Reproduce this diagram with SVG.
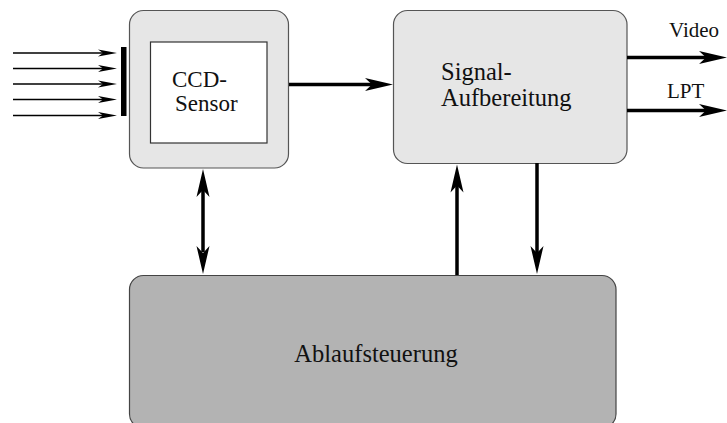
<svg xmlns="http://www.w3.org/2000/svg" width="727" height="423" viewBox="0 0 727 423">
  <style>
    .label { font-family: 'Liberation Serif', 'Tinos', 'DejaVu Serif', serif; font-size: 24.5px; fill: #111; }
    .label-sm { font-family: 'Liberation Serif', 'Tinos', 'DejaVu Serif', serif; font-size: 23px; fill: #111; }
    .port { font-family: 'Liberation Serif', 'Tinos', 'DejaVu Serif', serif; font-size: 21px; fill: #111; }
    .box-light { fill: #e6e6e6; stroke: #555; stroke-width: 1.2; }
    .box-dark { fill: #b3b3b3; stroke: #444; stroke-width: 1.2; }
    .thin { stroke: #000; stroke-width: 1.3; fill: none; }
    .thick { stroke: #000; stroke-width: 3.5; fill: none; }
    .head { fill: #000; stroke: none; }
  </style>
  <defs>
    <!-- notched arrowheads, tip at origin pointing +x -->
    <path id="head-small" d="M0,0 L-19,-3.6 L-14,0 L-19,3.6 Z"/>
    <path id="head-big" d="M0,0 L-28,-6.5 L-21,0 L-28,6.5 Z"/>
  </defs>

  <g id="ccd-sensor">
    <rect class="box-light" x="129.5" y="10.5" width="159" height="157.5" rx="14"/>
    <rect x="150.5" y="42" width="116.5" height="101" fill="#fff" stroke="#333" stroke-width="1.2"/>
    <text class="label-sm" x="172" y="86.5">CCD-</text>
    <text class="label-sm" x="175" y="110.5">Sensor</text>
  </g>

  <g id="signal-aufbereitung">
    <rect class="box-light" x="393.5" y="10.5" width="233.5" height="153" rx="14"/>
    <text class="label" x="441" y="79.5">Signal-</text>
    <text class="label" x="441" y="105.5">Aufbereitung</text>
  </g>

  <g id="ablaufsteuerung">
    <rect class="box-dark" x="129.5" y="275.5" width="486.5" height="152.5" rx="14"/>
    <text class="label" x="376" y="361.5" text-anchor="middle">Ablaufsteuerung</text>
  </g>

  <g id="sensor-window">
    <rect x="121" y="47" width="5.5" height="69" fill="#000"/>
  </g>

  <g id="port-labels">
    <text class="port" x="669" y="37">Video</text>
    <text class="port" x="667" y="98">LPT</text>
  </g>

  <g id="connectors">
    <!-- incoming light rays -->
    <line class="thin" x1="13" y1="53" x2="105" y2="53"/>
    <use href="#head-small" class="head" transform="translate(117,53)"/>
    <line class="thin" x1="13" y1="68.5" x2="105" y2="68.5"/>
    <use href="#head-small" class="head" transform="translate(117,68.5)"/>
    <line class="thin" x1="13" y1="84" x2="105" y2="84"/>
    <use href="#head-small" class="head" transform="translate(117,84)"/>
    <line class="thin" x1="13" y1="99.5" x2="105" y2="99.5"/>
    <use href="#head-small" class="head" transform="translate(117,99.5)"/>
    <line class="thin" x1="13" y1="115.5" x2="105" y2="115.5"/>
    <use href="#head-small" class="head" transform="translate(117,115.5)"/>

    <!-- CCD to signal processing -->
    <line class="thick" x1="289" y1="84.5" x2="373" y2="84.5"/>
    <use href="#head-big" class="head" transform="translate(393,84.5)"/>

    <!-- outputs -->
    <line class="thick" x1="627" y1="57.5" x2="706" y2="57.5"/>
    <use href="#head-big" class="head" transform="translate(727,57.5)"/>
    <line class="thick" x1="627" y1="110.5" x2="706" y2="110.5"/>
    <use href="#head-big" class="head" transform="translate(727,110.5)"/>

    <!-- CCD <-> sequencer -->
    <line class="thick" x1="203" y1="190" x2="203" y2="252"/>
    <use href="#head-big" class="head" transform="translate(203,169) rotate(-90)"/>
    <use href="#head-big" class="head" transform="translate(203,274) rotate(90)"/>

    <!-- sequencer to signal processing -->
    <line class="thick" x1="457" y1="275" x2="457" y2="185"/>
    <use href="#head-big" class="head" transform="translate(457,164.5) rotate(-90)"/>

    <!-- signal processing to sequencer -->
    <line class="thick" x1="537" y1="163" x2="537" y2="253"/>
    <use href="#head-big" class="head" transform="translate(537,274) rotate(90)"/>
  </g>
</svg>
